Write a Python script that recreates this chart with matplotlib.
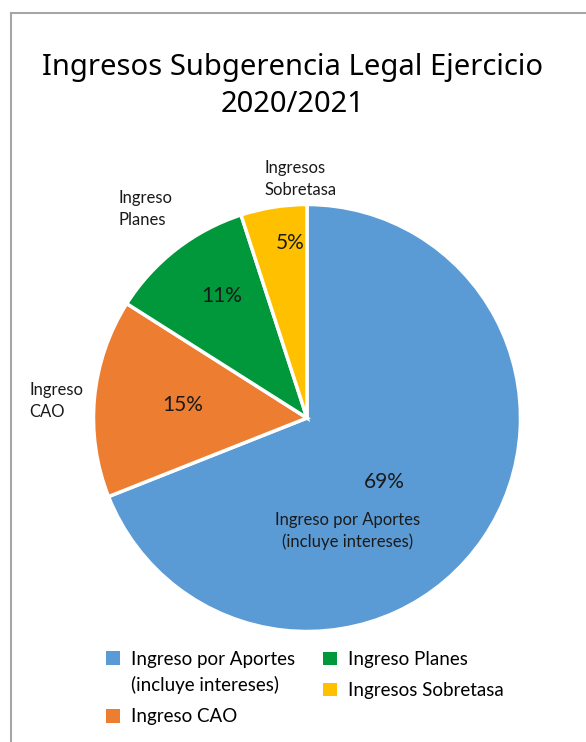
import matplotlib
matplotlib.use("Agg")
import matplotlib.pyplot as plt
from matplotlib.patches import Patch, Rectangle
from matplotlib.legend_handler import HandlerPatch

plt.rcParams['font.family'] = ['Lato', 'DejaVu Sans']

categorias = ['Ingreso por Aportes\n(incluye intereses)', 'Ingreso CAO',
              'Ingreso Planes', 'Ingresos Sobretasa']
valores = [69, 15, 11, 5]
colores = ['#5B9BD5', '#ED7D31', '#00983A', '#FFC000']
etiquetas = ['Ingreso por Aportes\n(incluye intereses)', 'Ingreso\nCAO',
             'Ingreso\nPlanes', 'Ingresos\nSobretasa']

# label positions (in pie radius units), like excel "best fit"
pos_pct = [(0.36, -0.30), (-0.58, 0.06), (-0.40, 0.57), (-0.08, 0.82)]
pos_cat = [(0.19, -0.53), (-1.30, 0.08), (-0.885, 0.98), (-0.20, 1.12)]
alin_cat = ['center', 'left', 'left', 'left']

fig = plt.figure(figsize=(5.86, 7.42), dpi=100)

# frame of the chart area (only left/top visible)
fig.add_artist(plt.Line2D([11/586, 11/586], [0, 1 - 13/742], color='#A6A6A6', lw=1.5,
                          transform=fig.transFigure))
fig.add_artist(plt.Line2D([11/586, 1], [1 - 13/742, 1 - 13/742], color='#A6A6A6', lw=1.5,
                          transform=fig.transFigure))

fig.text(0.5, 1 - 86/742, 'Ingresos Subgerencia Legal Ejercicio\n2020/2021',
         ha='center', va='center', fontsize=21, family=['Noto Sans', 'DejaVu Sans'],
         linespacing=1.35)

cx, cy, r = 307, 418, 213.5
ax = fig.add_axes([(cx - r) / 586, (742 - cy - r) / 742, 2 * r / 586, 2 * r / 742])
wedges, _ = ax.pie(valores, colors=colores, startangle=90, counterclock=False,
                   wedgeprops=dict(edgecolor='white', linewidth=2.5))
ax.set_xlim(-1, 1)
ax.set_ylim(-1, 1)
ax.set_aspect('equal')
ax.axis('off')

for v, (x, y) in zip(valores, pos_pct):
    ax.text(x, y, f'{v}%', ha='center', va='center', fontsize=15, color='#1a1a1a')

for t, (x, y), a in zip(etiquetas, pos_cat, alin_cat):
    ax.text(x, y, t, ha=a, va='center', fontsize=12, color='#1a1a1a',
            linespacing=1.45, clip_on=False)


# square aligned with the first line of a two-line label
def cuadro_arriba(legend, orig_handle, xdescent, ydescent, width, height, fontsize):
    return Rectangle((-xdescent, -ydescent + 0.8 * fontsize), width, height)


handles = [Patch(facecolor=c) for c in colores]
kw = dict(loc='upper left', frameon=False, fontsize=13.5, handlelength=0.75,
          handleheight=0.75, handletextpad=0.6, labelspacing=0.75, borderpad=0,
          borderaxespad=0)
leg1 = fig.legend([handles[0], handles[1]], [categorias[0], categorias[1]],
                  bbox_to_anchor=(106/586, 1 - 651/742),
                  handler_map={handles[0]: HandlerPatch(patch_func=cuadro_arriba)}, **kw)
for t in leg1.get_texts():
    t.set_linespacing(1.55)
leg2 = fig.legend([handles[2], handles[3]], [categorias[2], categorias[3]],
                  bbox_to_anchor=(323/586, 1 - 651/742), **kw)

fig.savefig('out.png', dpi=100)
